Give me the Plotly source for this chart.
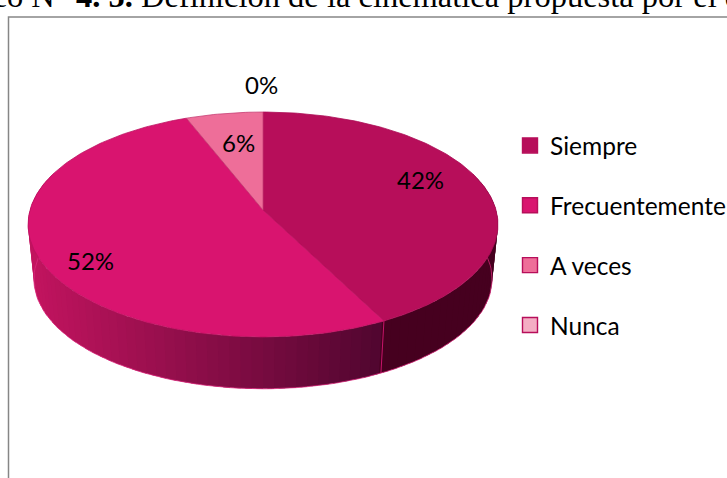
import math
import plotly.graph_objects as go

categories = ["Siempre", "Frecuentemente", "A veces", "Nunca"]
values = [42.4, 51.6, 6.0, 0.0]
slice_colors = ["#b70e5a", "#d9146f", "#ee6e99", "#f4aec4"]
title_html = "Gráfico N° <b>4. 5.</b> Definición de la cinemática propuesta por el docente"

# projection of the tilted disc, in page pixels
W, H = 727, 478
CX, APEX_Y = 263.0, 210.0
A, B, K = 233.0, 110.6, 0.129
DEPTH_Y, DEPTH_SCALE = 55.0, 0.975
label_xy = [(420, 179), (90, 260), (238, 142), (261, 84)]


def top(angle, scale=1.0, dy=0.0):
    u, v = math.sin(angle), math.cos(angle)
    d = 1 + K * v
    return CX + scale * A * u / d, APEX_Y + dy - scale * B * v / d


def bottom(angle):
    return top(angle, DEPTH_SCALE, DEPTH_Y)


def mix(c1, c2, t):
    a = [int(c1[i:i + 2], 16) for i in (1, 3, 5)]
    b = [int(c2[i:i + 2], 16) for i in (1, 3, 5)]
    return "#" + "".join(f"{round(p + (q - p) * t):02x}" for p, q in zip(a, b))


total = sum(values)
edges = [0.0]
for v in values:
    edges.append(edges[-1] + v / total * 2 * math.pi)

fig = go.Figure()
skip = dict(mode="lines", hoverinfo="skip", showlegend=False)

# front wall: painted strip by strip, each one overlapping the next
front_start, front_end = math.radians(70), math.radians(290)
seam = edges[1]
seam_x = top(seam)[0]
left_x = top(math.radians(270))[0]
n = 90
step = (front_end - front_start) / n
for i in range(n):
    a0 = front_start + step * i
    a1 = front_end if i == n - 1 else a0 + step * 1.6
    mid = a0 + step / 2
    if mid < seam:
        col = "#46001f"
    else:
        t = min(1, max(0, (top(mid)[0] - left_x) / (seam_x - left_x)))
        col = mix("#c2145f", "#50062f", t)
    p = [top(a0), top(a1), bottom(a1), bottom(a0), top(a0)]
    fig.add_trace(go.Scatter(x=[q[0] for q in p], y=[q[1] for q in p], fill="toself",
                             fillcolor=col, line=dict(color=col, width=0), **skip))

# rim along the bottom and the seam between the two front slices
rim = [bottom(front_start + (front_end - front_start) * i / 120) for i in range(121)]
fig.add_trace(go.Scatter(x=[q[0] for q in rim], y=[q[1] for q in rim],
                         line=dict(color="rgba(222,40,125,0.75)", width=1), **skip))
s = [top(seam), bottom(seam)]
fig.add_trace(go.Scatter(x=[q[0] for q in s], y=[q[1] for q in s],
                         line=dict(color="#c8146a", width=1), **skip))

# top face
for name, col, a0, a1 in zip(categories, slice_colors, edges[:-1], edges[1:]):
    if a1 <= a0:
        continue
    m = max(2, int((a1 - a0) * 60))
    arc = [top(a0 + (a1 - a0) * i / m) for i in range(m + 1)]
    p = [(CX, APEX_Y)] + arc + [(CX, APEX_Y)]
    fig.add_trace(go.Scatter(x=[q[0] for q in p], y=[q[1] for q in p], fill="toself",
                             fillcolor=col, line=dict(color=mix(col, "#a00c50", 0.5), width=0.8),
                             name=name, hoverinfo="name", mode="lines", showlegend=False))

# legend entries
for name, col in zip(categories, slice_colors):
    fig.add_trace(go.Scatter(x=[None], y=[None], mode="markers", name=name, legendgroup=name,
                             marker=dict(symbol="square", size=15, color=col,
                                         line=dict(color="#b70e5a", width=1.4))))

font = "Lato, Carlito, sans-serif"
annotations = [dict(x=x, y=y, xref="x", yref="y", text=f"{round(v)}%", showarrow=False,
                    font=dict(family=font, size=24, color="#000000"))
               for (x, y), v in zip(label_xy, values)]
annotations.append(dict(x=-78 / W, y=1 - 16 / H, xref="paper", yref="paper",
                        xanchor="left", yanchor="bottom",
                        text=title_html, showarrow=False, align="left",
                        font=dict(family="Liberation Serif, serif", size=32.5, color="#000000")))

fig.update_layout(
    width=W, height=H, autosize=False,
    margin=dict(l=0, r=0, t=0, b=0, autoexpand=False),
    paper_bgcolor="#ffffff", plot_bgcolor="#ffffff",
    xaxis=dict(range=[0, W], visible=False, fixedrange=True),
    yaxis=dict(range=[H, 0], visible=False, fixedrange=True),
    annotations=annotations,
    shapes=[dict(type="rect", xref="x", yref="y", x0=8.5, y0=17, x1=W + 20, y1=H + 20,
                 line=dict(color="#868686", width=1.5), layer="below")],
    legend=dict(x=510 / W, y=1 - 123 / H, xanchor="left", yanchor="top",
                bgcolor="rgba(0,0,0,0)", borderwidth=0, tracegroupgap=25,
                traceorder="grouped",
                font=dict(family=font, size=24.5, color="#000000")),
)
fig.write_html("out.html", config=dict(displayModeBar=False),
               post_script="document.body.style.margin='0';")
